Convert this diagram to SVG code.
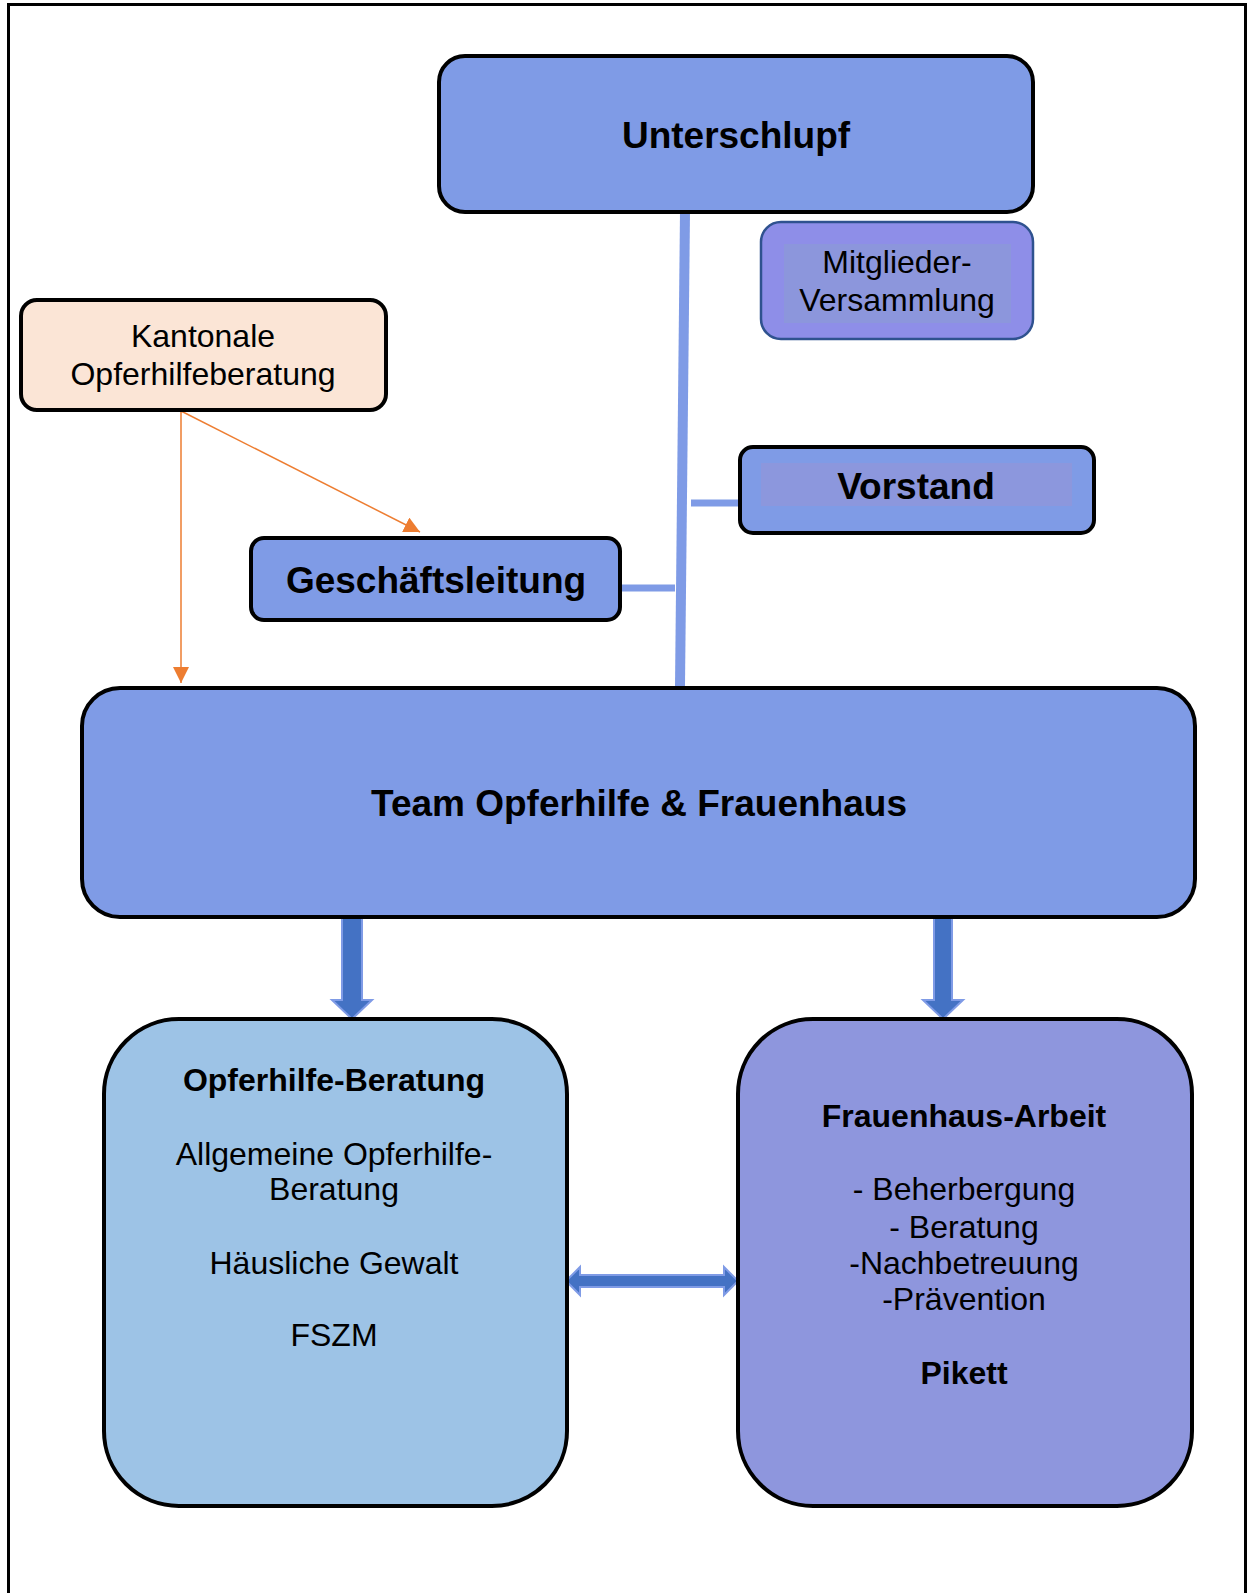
<svg xmlns="http://www.w3.org/2000/svg" width="1248" height="1593" viewBox="0 0 1248 1593">
<defs>
<style>
.box{fill:#7F9BE6;stroke:#000;stroke-width:4}
.t{font-family:"Liberation Sans",Arial,sans-serif;fill:#000;text-anchor:middle}
.b37{font-size:37px;font-weight:bold}
.r32{font-size:32px}
.b32{font-size:32px;font-weight:bold}
.conn{stroke:#7F9BE6;fill:none}
.blk{fill:#4472C4;stroke:#7F9BE6;stroke-width:2}
.or{stroke:#ED7D31;stroke-width:1.5;fill:none}
</style>
<marker id="oa" viewBox="0 0 10 10" refX="10" refY="5" markerWidth="10" markerHeight="10" markerUnits="userSpaceOnUse" orient="auto">
<path d="M0,0 L10,5 L0,10 Z" fill="#ED7D31"/>
</marker>
<marker id="oa2" viewBox="0 0 16 16" refX="16" refY="8" markerWidth="16" markerHeight="16" markerUnits="userSpaceOnUse" orient="auto">
<path d="M0,0 L16,8 L0,16 Z" fill="#ED7D31"/>
</marker>
</defs>
<rect width="1248" height="1593" fill="#fff"/>
<rect x="8.5" y="4.5" width="1237" height="1610" fill="none" stroke="#000" stroke-width="3"/>

<g id="connectors">
<path class="conn" d="M685,212 L680,686" stroke-width="10"/>
<path class="conn" d="M691,503 L739,503" stroke-width="7"/>
<path class="conn" d="M620,588 L675,588" stroke-width="7"/>
<path class="or" d="M181,411 L181,683" marker-end="url(#oa2)"/>
<path class="or" d="M181,411 L420,532" marker-end="url(#oa2)"/>
<path class="blk" d="M342,917 L362,917 L362,1000 L372,1000 L352,1019 L332,1000 L342,1000 Z"/>
<path class="blk" d="M934,916 L952,916 L952,1000 L963,1000 L943,1019 L923,1000 L934,1000 Z"/>
<path class="blk" d="M566,1281 L580,1267 L580,1275 L724,1275 L724,1267 L738,1281 L724,1295 L724,1287 L580,1287 L580,1295 Z"/>
</g>

<g id="unterschlupf">
<rect class="box" x="439" y="56" width="594" height="156" rx="26"/>
<text class="t b37" x="736" y="148">Unterschlupf</text>
</g>

<g id="mitglieder">
<rect x="761" y="222" width="272" height="117" rx="20" fill="#8E8EE8" stroke="#2F528F" stroke-width="2.5"/>
<rect x="784" y="244" width="227" height="79" fill="#8C96DC"/>
<text class="t r32" x="897" y="273">Mitglieder-</text>
<text class="t r32" x="897" y="311">Versammlung</text>
</g>

<g id="kantonale">
<rect x="21" y="300" width="365" height="110" rx="16" fill="#FBE5D6" stroke="#000" stroke-width="4"/>
<text class="t r32" x="203" y="347">Kantonale</text>
<text class="t r32" x="203" y="385">Opferhilfeberatung</text>
</g>

<g id="vorstand">
<rect class="box" x="740" y="447" width="354" height="86" rx="13"/>
<rect x="761" y="463" width="311" height="43" fill="#8C97DD"/>
<text class="t b37" x="916" y="499">Vorstand</text>
</g>

<g id="geschaeftsleitung">
<rect class="box" x="251" y="538" width="369" height="82" rx="13"/>
<text class="t b37" x="436" y="593">Geschäftsleitung</text>
</g>

<g id="team">
<rect class="box" x="82" y="688" width="1113" height="229" rx="38"/>
<text class="t b37" x="639" y="816">Team Opferhilfe &amp; Frauenhaus</text>
</g>

<g id="opferhilfe">
<rect x="104" y="1019" width="463" height="487" rx="75" fill="#9DC3E6" stroke="#000" stroke-width="4"/>
<text class="t b32" x="334" y="1091">Opferhilfe-Beratung</text>
<text class="t r32" x="334" y="1165">Allgemeine Opferhilfe-</text>
<text class="t r32" x="334" y="1200">Beratung</text>
<text class="t r32" x="334" y="1274">Häusliche Gewalt</text>
<text class="t r32" x="334" y="1346">FSZM</text>
</g>

<g id="frauenhaus">
<rect x="738" y="1019" width="454" height="487" rx="75" fill="#8E96DD" stroke="#000" stroke-width="4"/>
<text class="t b32" x="964" y="1127">Frauenhaus-Arbeit</text>
<text class="t r32" x="964" y="1200">- Beherbergung</text>
<text class="t r32" x="964" y="1238">- Beratung</text>
<text class="t r32" x="964" y="1274">-Nachbetreuung</text>
<text class="t r32" x="964" y="1310">-Prävention</text>
<text class="t b32" x="964" y="1384">Pikett</text>
</g>
</svg>
